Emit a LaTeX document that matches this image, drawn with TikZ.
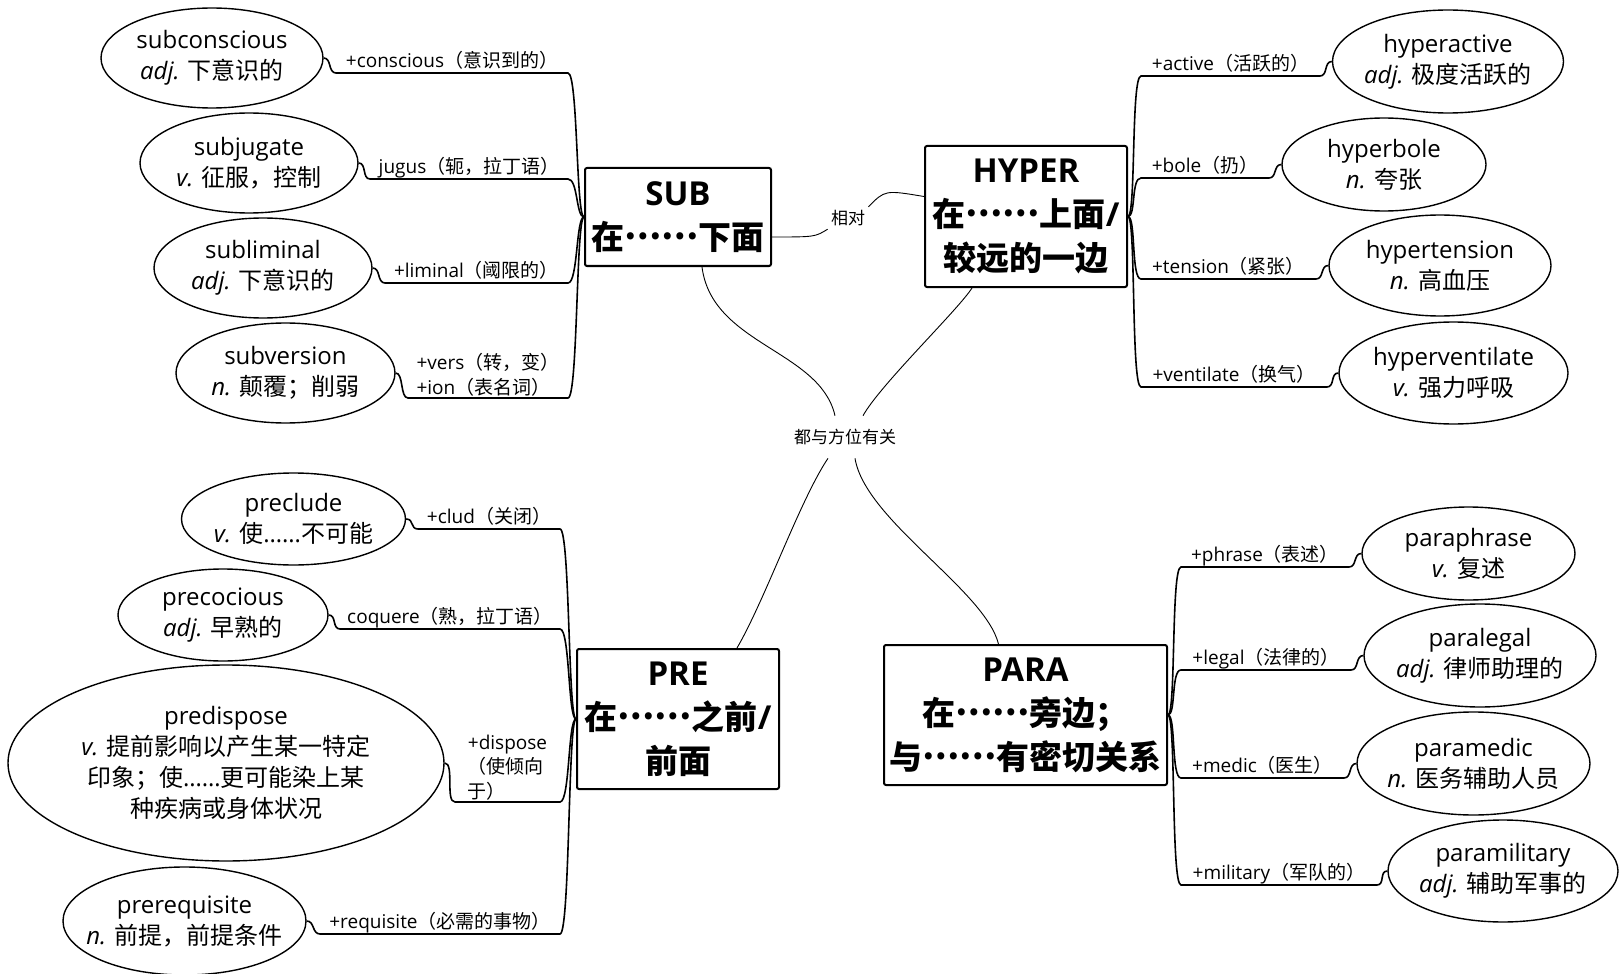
\documentclass[tikz,border=0pt]{standalone}
\usepackage{fontspec}
\setmainfont{Open Sans}
\newfontfamily\cjk{Noto Sans CJK SC}
\newcommand{\zh}[1]{{\cjk #1}}
\newcommand{\lift}[1]{\raisebox{0.3em}{#1}}
\usetikzlibrary{shapes.geometric,calc}
\tikzset{box/.style={draw,line width=1pt,rounded corners=1pt,inner sep=0pt,align=center,font=\fontsize{16.5}{22}\selectfont\bfseries}}
\tikzset{word/.style={ellipse,draw,line width=0.7pt,inner xsep=-12pt,inner ysep=0pt,align=center,font=\fontsize{12}{15.5}\selectfont}}
\tikzset{tag/.style={above,inner sep=0.5pt,text height=8.5pt,text depth=2pt,font=\fontsize{9.5}{12.25}\selectfont}}
\tikzset{tags/.style={tag,text height={},text depth={},align=left}}
\tikzset{note/.style={inner sep=1.5pt,font=\fontsize{8.5}{10}\selectfont}}
\tikzset{branch/.style={line width=0.8pt}}
\tikzset{link/.style={line width=0.45pt}}

\begin{document}
\begin{tikzpicture}[x=0.5pt,y=-0.5pt]
    \useasboundingbox (0,0) rectangle (1619,974);
    \node[note,inner ysep=6.5pt] (hub) at (845,437) {\zh{都与方位有关}};
    \node[box,minimum width=93pt,minimum height=49pt] (sub) at (678,217) {SUB\\\zh{在\lift{……}下面}};
    \node[box,minimum width=101pt,minimum height=70.5pt] (hyper) at (1026,216.5) {HYPER\\\zh{在\lift{……}上面}/\\\zh{较远的一边}};
    \node[box,minimum width=101pt,minimum height=70pt] (pre) at (678,719) {PRE\\\zh{在\lift{……}之前}/\\\zh{前面}};
    \node[box,minimum width=141.5pt,minimum height=70pt] (para) at (1025.5,715) {PARA\\\zh{在\lift{……}旁边；}\\\zh{与\lift{……}有密切关系}};

    \node[word,minimum width=111pt,minimum height=50pt] (subconscious) at (212,58) {subconscious\\\textit{adj.} \zh{下意识的}};
    \node[word,minimum width=109pt,minimum height=50pt] (subjugate) at (249,163) {subjugate\\\textit{v.} \zh{征服，控制}};
    \node[word,minimum width=109pt,minimum height=50pt] (subliminal) at (263,268) {subliminal\\\textit{adj.} \zh{下意识的}};
    \node[word,minimum width=109.5pt,minimum height=50pt] (subversion) at (285.5,373) {subversion\\\textit{n.} \zh{颠覆；削弱}};

    \node[word,minimum width=115.5pt,minimum height=51.5pt] (hyperactive) at (1448,61.5) {hyperactive\\\textit{adj.} \zh{极度活跃的}};
    \node[word,minimum width=102pt,minimum height=46.5pt] (hyperbole) at (1384,164.5) {hyperbole\\\textit{n.} \zh{夸张}};
    \node[word,minimum width=111pt,minimum height=50.5pt] (hypertension) at (1440,265.5) {hypertension\\\textit{n.} \zh{高血压}};
    \node[word,minimum width=114.5pt,minimum height=51pt] (hyperventilate) at (1453.5,373) {hyperventilate\\\textit{v.} \zh{强力呼吸}};

    \node[word,minimum width=112pt,minimum height=46pt] (preclude) at (293.5,519) {preclude\\\textit{v.} \zh{使}……\zh{不可能}};
    \node[word,minimum width=105pt,minimum height=46pt] (precocious) at (223,615) {precocious\\\textit{adj.} \zh{早熟的}};
    \node[word,minimum width=218pt,minimum height=98pt] (predispose) at (226,763) {predispose\\\textit{v.} \zh{提前影响以产生某一特定}\\\zh{印象；使}……\zh{更可能染上某}\\\zh{种疾病或身体状况}};
    \node[word,minimum width=121.5pt,minimum height=54pt] (prerequisite) at (184.5,921) {prerequisite\\\textit{n.} \zh{前提，前提条件}};

    \node[word,minimum width=106.5pt,minimum height=46.5pt] (paraphrase) at (1468.5,553.5) {paraphrase\\\textit{v.} \zh{复述}};
    \node[word,minimum width=116pt,minimum height=51.5pt] (paralegal) at (1480,655.5) {paralegal\\\textit{adj.} \zh{律师助理的}};
    \node[word,minimum width=116.5pt,minimum height=51.5pt] (paramedic) at (1473.5,763.5) {paramedic\\\textit{n.} \zh{医务辅助人员}};
    \node[word,minimum width=115pt,minimum height=51pt] (paramilitary) at (1503,871) {paramilitary\\\textit{adj.} \zh{辅助军事的}};

    \draw[branch] (sub.west) .. controls +(-8,0) and +(10,0) .. (568,73) -- node[tag] (t-conscious) {+conscious\zh{（意识到的）}} (336,73) .. controls +(-8,0) and +(8,0) .. (subconscious.east);
    \draw[branch] (sub.west) .. controls +(-8,0) and +(10,0) .. (568,179) -- node[tag] (t-jugus) {jugus\zh{（轭，拉丁语）}} (370,179) .. controls +(-8,0) and +(8,0) .. (subjugate.east);
    \draw[branch] (sub.west) .. controls +(-8,0) and +(10,0) .. (568,283) -- node[tag] (t-liminal) {+liminal\zh{（阈限的）}} (385,283) .. controls +(-8,0) and +(8,0) .. (subliminal.east);
    \draw[branch] (sub.west) .. controls +(-8,0) and +(10,0) .. (568,398) -- node[tags] (t-vers) {+vers\zh{（转，变）}\\+ion\zh{（表名词）}} (408,398) .. controls +(-8,0) and +(8,0) .. (subversion.east);

    \draw[branch] (hyper.east) .. controls +(8,0) and +(-10,0) .. (1141,76) -- node[tag] (t-active) {+active\zh{（活跃的）}} (1320,76) .. controls +(8,0) and +(-8,0) .. (hyperactive.west);
    \draw[branch] (hyper.east) .. controls +(8,0) and +(-10,0) .. (1141,178) -- node[tag] (t-bole) {+bole\zh{（扔）}} (1269,178) .. controls +(8,0) and +(-8,0) .. (hyperbole.west);
    \draw[branch] (hyper.east) .. controls +(8,0) and +(-10,0) .. (1141,279) -- node[tag] (t-tension) {+tension\zh{（紧张）}} (1316,279) .. controls +(8,0) and +(-8,0) .. (hypertension.west);
    \draw[branch] (hyper.east) .. controls +(8,0) and +(-10,0) .. (1141,387) -- node[tag] (t-ventilate) {+ventilate\zh{（换气）}} (1327,387) .. controls +(8,0) and +(-8,0) .. (hyperventilate.west);

    \draw[branch] (pre.west) .. controls +(-8,0) and +(10,0) .. (560,529) -- node[tag] (t-clud) {+clud\zh{（关闭）}} (418,529) .. controls +(-8,0) and +(8,0) .. (preclude.east);
    \draw[branch] (pre.west) .. controls +(-8,0) and +(10,0) .. (560,629) -- node[tag] (t-coquere) {coquere\zh{（熟，拉丁语）}} (340,629) .. controls +(-8,0) and +(8,0) .. (precocious.east);
    \draw[branch] (pre.west) .. controls +(-8,0) and +(10,0) .. (560,802) -- node[tags] (t-dispose) {+dispose\\\zh{（使倾向}\\\zh{于）}} (455,802) .. controls +(-10,0) and +(10,0) .. (predispose.east);
    \draw[branch] (pre.west) .. controls +(-8,0) and +(10,0) .. (560,934) -- node[tag] (t-requisite) {+requisite\zh{（必需的事物）}} (320,934) .. controls +(-8,0) and +(8,0) .. (prerequisite.east);

    \draw[branch] (para.east) .. controls +(8,0) and +(-10,0) .. (1181,567) -- node[tag] (t-phrase) {+phrase\zh{（表述）}} (1349,567) .. controls +(8,0) and +(-8,0) .. (paraphrase.west);
    \draw[branch] (para.east) .. controls +(8,0) and +(-10,0) .. (1181,670) -- node[tag] (t-legal) {+legal\zh{（法律的）}} (1351,670) .. controls +(8,0) and +(-8,0) .. (paralegal.west);
    \draw[branch] (para.east) .. controls +(8,0) and +(-10,0) .. (1181,778) -- node[tag] (t-medic) {+medic\zh{（医生）}} (1344,778) .. controls +(8,0) and +(-8,0) .. (paramedic.west);
    \draw[branch] (para.east) .. controls +(8,0) and +(-10,0) .. (1181,885) -- node[tag] (t-military) {+military\zh{（军队的）}} (1377,885) .. controls +(8,0) and +(-8,0) .. (paramilitary.west);

    \draw[link] ($(sub.south)+(24,0)$) .. controls (712,345) and (820,350) .. ($(hub.north)+(-10,0)$);
    \draw[link] ($(hyper.south)+(-54,0)$) .. controls (958,310) and (880,385) .. ($(hub.north)+(18,0)$);
    \draw[link] ($(pre.north)+(59,0)$) .. controls (765,600) and (800,500) .. ($(hub.south)+(-17,0)$);
    \draw[link] ($(para.north)+(-27,0)$) .. controls (985,590) and (865,520) .. ($(hub.south)+(10,0)$);

    \node[note] (rel) at (848,218) {\zh{相对}};
    \draw[link] ($(sub.east)+(0,20)$) .. controls (815,237) .. (rel.south west);
    \draw[link] (rel.north east) .. controls (885,190) .. ($(hyper.west)+(0,-20)$);
\end{tikzpicture}
\end{document}
